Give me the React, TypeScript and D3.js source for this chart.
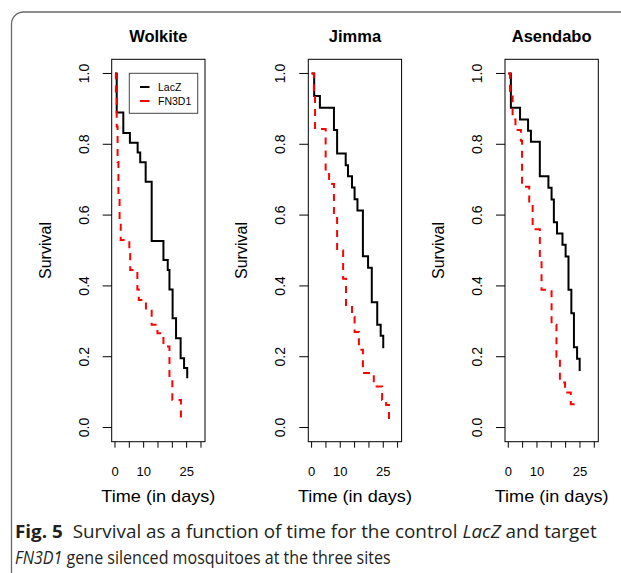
import { useEffect, useRef } from "react";
import * as d3 from "d3";

const sites = ["Wolkite", "Jimma", "Asendabo"];
const groups = ["LacZ", "FN3D1"];
const timeTicks = [0, 5, 10, 15, 20, 25, 30];
const timeTickLabels = [0, 10, 25];
const survivalTicks = [0, 0.2, 0.4, 0.6, 0.8, 1.0];

// [day, survival]
const wolkiteLacZ = [
  [0, 1], [0.6, 0.89], [2.9, 0.832], [5.2, 0.804], [7.9, 0.777], [8.8, 0.749],
  [10.7, 0.694], [12.8, 0.527], [16.9, 0.473], [18.4, 0.445], [19.0, 0.39],
  [20.1, 0.309], [21.3, 0.252], [22.9, 0.196], [24.1, 0.168], [25.2, 0.139],
];
const wolkiteFN3D1 = [
  [0, 1], [0.3, 0.94], [0.6, 0.85], [0.9, 0.75], [1.2, 0.65], [1.6, 0.58],
  [2.0, 0.53], [5.0, 0.49], [5.3, 0.445], [7.8, 0.39], [8.3, 0.36],
  [10.8, 0.33], [12.8, 0.29], [14.8, 0.266], [16.9, 0.229], [19.0, 0.135],
  [20.0, 0.078], [23.0, 0.028], [24.2, 0.028],
];
const jimmaLacZ = [
  [0, 1], [0.9, 0.936], [2.9, 0.903], [7.8, 0.84], [8.9, 0.774], [11.9, 0.741],
  [12.7, 0.71], [14.1, 0.678], [15.0, 0.645], [16.0, 0.613], [17.9, 0.484],
  [19.7, 0.451], [21.0, 0.354], [22.9, 0.29], [24.1, 0.259], [25.0, 0.224],
];
const jimmaFN3D1 = [
  [0, 1], [0.8, 0.94], [1.2, 0.843], [4.9, 0.72], [6.1, 0.688], [7.8, 0.6],
  [8.9, 0.5], [11.0, 0.42], [12.0, 0.346], [14.1, 0.313], [15.0, 0.27],
  [16.5, 0.22], [17.9, 0.154], [21.7, 0.116], [24.6, 0.078], [26.0, 0.064],
  [27.0, 0.01],
];
const asendaboLacZ = [
  [0, 1], [0.9, 0.903], [4.1, 0.87], [6.9, 0.838], [7.9, 0.807], [11.0, 0.71],
  [14.0, 0.677], [15.1, 0.644], [15.9, 0.58], [17.0, 0.548], [18.9, 0.516],
  [20.0, 0.483], [21.0, 0.389], [22.0, 0.323], [22.9, 0.227], [24.0, 0.194],
  [24.9, 0.16],
];
const asendaboFN3D1 = [
  [0, 1], [0.6, 0.935], [1.5, 0.87], [2.5, 0.84], [4.4, 0.81], [4.8, 0.68],
  [7.3, 0.63], [8.5, 0.56], [11.0, 0.47], [11.6, 0.389], [15.1, 0.29],
  [16.8, 0.2], [18.0, 0.127], [19.8, 0.099], [21.8, 0.066], [23.2, 0.066],
];

const curves = [
  [wolkiteLacZ, wolkiteFN3D1],
  [jimmaLacZ, jimmaFN3D1],
  [asendaboLacZ, asendaboFN3D1],
];

export default function App() {
  const ref = useRef<SVGSVGElement>(null);

  useEffect(() => {
    if (!ref.current) return;
    const width = 621,
      height = 573;
    const font = "'Liberation Sans', Arial, sans-serif";
    const capFont = "'Open Sans', 'Noto Sans', sans-serif";

    const svg = d3.select(ref.current);
    svg.selectAll("*").remove();
    svg.attr("width", width).attr("height", height);

    svg.append("rect").attr("width", width).attr("height", height).attr("fill", "#fff");

    // rounded card frame
    svg
      .append("path")
      .attr("d", "M11.5,573 L11.5,24 A12,12 0 0 1 23.5,12 L621,12")
      .attr("fill", "none")
      .attr("stroke", "#6a6a6a")
      .attr("stroke-width", 1.3);

    const panelLeft = [111.7, 308.3, 505];
    const boxW = 93.3;
    const top = 59.3,
      bottom = 441.7;

    const y = d3.scaleLinear().domain([-0.04, 1.04]).range([bottom, top]);

    sites.forEach((site, i) => {
      const left = panelLeft[i];
      const x = d3.scaleLinear().domain([-1.15, 31.4]).range([left, left + boxW]);
      const g = svg.append("g");

      // title
      g.append("text")
        .attr("x", left + boxW / 2)
        .attr("y", 41.7)
        .attr("text-anchor", "middle")
        .style("font-family", font)
        .style("font-weight", "bold")
        .style("font-size", "16.5px")
        .text(site);

      // curves
      const line = d3
        .line<number[]>()
        .x((d) => x(d[0]))
        .y((d) => y(d[1]))
        .curve(d3.curveStepAfter);

      g.append("path")
        .attr("d", line(curves[i][0]))
        .attr("fill", "none")
        .attr("stroke", "#000")
        .attr("stroke-width", 2);

      g.append("path")
        .attr("d", line(curves[i][1]))
        .attr("fill", "none")
        .attr("stroke", "#f00")
        .attr("stroke-width", 2)
        .attr("stroke-dasharray", "7,6");

      // box
      g.append("rect")
        .attr("x", left)
        .attr("y", top)
        .attr("width", boxW)
        .attr("height", bottom - top)
        .attr("fill", "none")
        .attr("stroke", "#000")
        .attr("stroke-width", 1);

      // x axis (R style: ticks hang from box bottom)
      g.selectAll(".xt")
        .data(timeTicks)
        .enter()
        .append("line")
        .attr("x1", (d) => x(d))
        .attr("x2", (d) => x(d))
        .attr("y1", bottom)
        .attr("y2", bottom + 6)
        .attr("stroke", "#000");

      g.selectAll(".xl")
        .data(timeTickLabels)
        .enter()
        .append("text")
        .attr("x", (d) => x(d))
        .attr("y", 476)
        .attr("text-anchor", "middle")
        .style("font-family", font)
        .style("font-size", "13px")
        .text((d) => d);

      g.append("text")
        .attr("x", left + boxW / 2)
        .attr("y", 502)
        .attr("text-anchor", "middle")
        .attr("textLength", 114)
        .attr("lengthAdjust", "spacingAndGlyphs")
        .style("font-family", font)
        .style("font-size", "17px")
        .text("Time (in days)");

      // y axis
      g.selectAll(".yt")
        .data(survivalTicks)
        .enter()
        .append("line")
        .attr("x1", left - 9)
        .attr("x2", left)
        .attr("y1", (d) => y(d))
        .attr("y2", (d) => y(d))
        .attr("stroke", "#000");

      g.selectAll(".yl")
        .data(survivalTicks)
        .enter()
        .append("text")
        .attr("transform", (d) => `translate(${left - 23},${y(d)}) rotate(-90)`)
        .attr("text-anchor", "middle")
        .style("font-family", font)
        .style("font-size", "14px")
        .text((d) => d3.format(".1f")(d));

      g.append("text")
        .attr("transform", `translate(${left - 61},${y(0.5)}) rotate(-90)`)
        .attr("text-anchor", "middle")
        .style("font-family", font)
        .style("font-size", "16px")
        .text("Survival");

      // legend only in the first panel
      if (i === 0) {
        const lg = g.append("g");
        lg.append("rect")
          .attr("x", 129.3)
          .attr("y", 73.3)
          .attr("width", 68.4)
          .attr("height", 40)
          .attr("fill", "#fff")
          .attr("stroke", "#444")
          .attr("stroke-width", 1);
        groups.forEach((name, k) => {
          const ly = 87 + k * 14;
          lg.append("line")
            .attr("x1", 140)
            .attr("x2", 149.5)
            .attr("y1", ly)
            .attr("y2", ly)
            .attr("stroke", k === 0 ? "#000" : "#f00")
            .attr("stroke-width", 2);
          lg.append("text")
            .attr("x", 158)
            .attr("y", ly + 3.7)
            .style("font-family", font)
            .style("font-size", "10.5px")
            .text(name);
        });
      }
    });

    // figure caption, squeezed horizontally to the reference widths
    const caption = (yPos: number, target: number) => {
      const cg = svg.append("g");
      const t = cg
        .append("text")
        .attr("x", 0)
        .attr("y", 0)
        .style("font-family", capFont)
        .style("font-size", "18px")
        .style("fill", "#231f20");
      return { cg, t, yPos, target };
    };
    const fit = (c: ReturnType<typeof caption>) => {
      const len = (c.t.node() as SVGTextElement).getComputedTextLength() || c.target;
      c.cg.attr("transform", `translate(15,${c.yPos}) scale(${c.target / len},1)`);
    };

    const c1 = caption(538, 582);
    c1.t.append("tspan").style("font-weight", "bold").text("Fig. 5");
    c1.t.append("tspan").text("\u00a0\u00a0Survival as a function of time for the control ");
    c1.t.append("tspan").style("font-style", "italic").text("LacZ");
    c1.t.append("tspan").text(" and target");
    fit(c1);

    const c2 = caption(564, 376);
    c2.t.append("tspan").style("font-style", "italic").text("FN3D1");
    c2.t.append("tspan").text(" gene silenced mosquitoes at the three sites");
    fit(c2);
  }, []);

  return <svg ref={ref} style={{ position: "absolute", left: 0, top: 0 }} />;
}
